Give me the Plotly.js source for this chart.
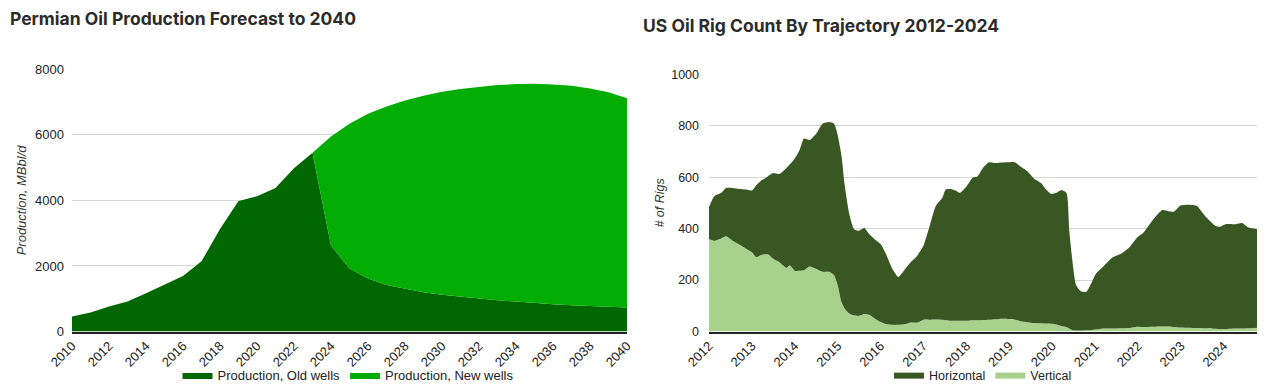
<!DOCTYPE html>
<html>
<head>
<meta charset="utf-8">
<script src="https://cdn.plot.ly/plotly-3.0.1.min.js"></script>
<style>
html,body{margin:0;padding:0;background:#fff;}
#chart{width:1270px;height:390px;}
</style>
</head>
<body>
<div id="chart"></div>
<script>
// ---- Permian production forecast (MBbl/d) ----
const permianYears = [2010,2011,2012,2013,2014,2015,2016,2017,2018,2019,2020,2021,2022,2023,2024,2025,2026,2027,2028,2029,2030,2031,2032,2033,2034,2035,2036,2037,2038,2039,2040];
const oldWells = [462,583,764,915,1166,1437,1698,2141,3126,3980,4131,4382,4985,5457,2623,1920,1618,1417,1296,1196,1126,1065,1005,955,915,864,834,804,774,744,734];
const newWells = [0,0,0,0,0,0,0,0,0,0,0,0,0,0,3327,4422,5025,5447,5749,6000,6190,6332,6462,6562,6633,6694,6704,6693,6643,6553,6381];
const permianTicks = [2010,2012,2014,2016,2018,2020,2022,2024,2026,2028,2030,2032,2034,2036,2038,2040];

// ---- US oil rig count by trajectory ----
const rigDates = ["2012-01-01","2012-02-15","2012-04-15","2012-05-25","2012-07-20","2012-09-15","2012-11-15",
"2013-01-01","2013-02-05","2013-03-20","2013-05-15","2013-07-01","2013-08-20","2013-10-20","2013-11-20",
"2014-01-01","2014-02-10","2014-03-20","2014-05-05","2014-07-01","2014-08-25","2014-10-20","2014-12-01",
"2015-01-01","2015-02-01","2015-03-01","2015-04-10","2015-05-20","2015-07-01","2015-08-15","2015-09-25","2015-11-08",
"2016-01-01","2016-02-15","2016-04-10","2016-06-01","2016-07-20","2016-09-15","2016-11-10",
"2017-01-01","2017-02-18","2017-04-15","2017-06-10","2017-07-08","2017-08-20","2017-10-01","2017-11-05",
"2018-01-01","2018-02-25","2018-04-05","2018-05-20","2018-07-12","2018-09-08","2018-11-03",
"2019-01-01","2019-02-15","2019-04-07","2019-06-05","2019-08-01","2019-09-28","2019-11-10","2019-12-25",
"2020-02-05","2020-03-18","2020-05-01","2020-05-26","2020-06-24","2020-07-23","2020-09-01","2020-10-16","2020-11-28",
"2021-01-08","2021-03-07","2021-05-31","2021-08-08","2021-10-20","2021-12-25",
"2022-02-17","2022-05-01","2022-07-27","2022-09-20","2022-11-03","2022-12-28",
"2023-03-10","2023-05-18","2023-07-26","2023-10-22","2023-12-01",
"2024-01-15","2024-04-08","2024-06-05","2024-07-30","2024-10-10"];
const verticalRigs = [360,353,362,370,353,338,321,
308,289,298,300,283,270,248,257,
236,236,238,253,244,232,232,219,
180,116,90,70,62,61,68,65,52,
37,29,26,26,28,35,35,
46,46,47,46,44,42,42,42,
42,44,44,45,46,48,50,
49,47,40,36,33,32,31,30,
27,22,18,12,5,4,4,5,6,
8,12,12,13,14,19,
18,19,20,20,18,16,
15,14,13,11,10,
10,12,12,13,15];
const horizontalRigs = [124,173,177,188,205,216,231,
240,279,288,303,333,342,387,393,
437,469,512,491,525,576,582,589,
583,570,481,386,336,331,334,314,308,
303,273,218,186,210,235,261,
288,358,441,474,508,512,506,497,
522,555,559,590,612,607,607,
609,611,601,586,561,545,521,505,
512,528,521,380,259,176,153,149,181,
217,239,277,289,314,347,
367,411,452,448,448,474,
478,474,436,400,397,
407,405,410,391,383];

const W = 1270, H = 390;
const px = v => v / W;
const py = v => 1 - v / H;

const tickFont = {family: 'Liberation Sans, Arial, sans-serif', size: 13, color: '#222'};
const titleFont = {family: 'Inter, sans-serif', size: 17.5, weight: 700, color: '#2b2b2b'};

const traces = [
  {x: permianYears, y: oldWells, name: 'Production, Old wells', type: 'scatter', mode: 'lines',
   stackgroup: 'perm', line: {width: 0, color: '#016801'}, fillcolor: '#016801',
   xaxis: 'x', yaxis: 'y', legend: 'legend', legendrank: 1, hoverinfo: 'x+y+name'},
  {x: permianYears, y: newWells, name: 'Production, New wells', type: 'scatter', mode: 'lines',
   stackgroup: 'perm', line: {width: 0, color: '#03ad03'}, fillcolor: '#03ad03',
   xaxis: 'x', yaxis: 'y', legend: 'legend', legendrank: 2, hoverinfo: 'x+y+name'},
  {x: rigDates, y: verticalRigs, name: 'Vertical', type: 'scatter', mode: 'lines',
   stackgroup: 'rigs', line: {width: 0, color: '#a9d18e', shape: 'spline', smoothing: 0.6}, fillcolor: '#a9d18e',
   xaxis: 'x2', yaxis: 'y2', legend: 'legend2', legendrank: 2},
  {x: rigDates, y: horizontalRigs, name: 'Horizontal', type: 'scatter', mode: 'lines',
   stackgroup: 'rigs', line: {width: 0, color: '#385723', shape: 'spline', smoothing: 0.6}, fillcolor: '#385723',
   xaxis: 'x2', yaxis: 'y2', legend: 'legend2', legendrank: 1}
];

const layout = {
  width: W, height: H, autosize: false,
  margin: {l: 0, r: 0, t: 0, b: 0},
  paper_bgcolor: '#fff', plot_bgcolor: '#fff',
  showlegend: true,
  xaxis: {
    domain: [px(72), px(627)], anchor: 'y', range: [2010, 2040],
    tickmode: 'array', tickvals: permianTicks, ticktext: permianTicks.map(String),
    tickangle: -45, tickfont: tickFont, showgrid: false, zeroline: false,
    showline: true, linecolor: '#222', linewidth: 1.5, ticks: '', fixedrange: true
  },
  yaxis: {
    domain: [py(335), py(70)], anchor: 'x', range: [0, 8000], dtick: 2000,
    tickfont: tickFont, gridcolor: '#d6d6d6', gridwidth: 1, zeroline: false, showline: false,
    ticks: '', ticklabelstandoff: 7, fixedrange: true,
    title: {text: 'Production, MBbl/d', font: {family: 'Liberation Sans, Arial, sans-serif', size: 13, style: 'italic', color: '#333'}, standoff: 5}
  },
  xaxis2: {
    domain: [px(709), px(1257)], anchor: 'y2', type: 'date', range: ['2012-01-01', '2024-10-10'],
    tick0: '2012-01-01', dtick: 'M12', tickformat: '%Y',
    tickangle: -45, tickfont: tickFont, showgrid: false, zeroline: false,
    showline: true, linecolor: '#222', linewidth: 1.5, ticks: '', fixedrange: true
  },
  yaxis2: {
    domain: [py(335), py(75)], anchor: 'x2', range: [0, 1000], dtick: 200,
    tickfont: {family: 'Liberation Sans, Arial, sans-serif', size: 12.5, color: '#222'},
    gridcolor: '#d6d6d6', gridwidth: 1, zeroline: false, showline: false,
    ticks: '', ticklabelstandoff: 9, fixedrange: true,
    title: {text: '# of Rigs', font: {family: 'Liberation Sans, Arial, sans-serif', size: 12.5, style: 'italic', color: '#333'}, standoff: 3}
  },
  legend: {
    orientation: 'h', xref: 'paper', yref: 'paper', x: px(348), xanchor: 'center',
    y: py(379), yanchor: 'middle', traceorder: 'normal',
    font: {family: 'Liberation Sans, Arial, sans-serif', size: 13, color: '#222'},
    bgcolor: 'rgba(0,0,0,0)'
  },
  legend2: {
    orientation: 'h', xref: 'paper', yref: 'paper', x: px(983), xanchor: 'center',
    y: py(379), yanchor: 'middle', traceorder: 'normal',
    font: {family: 'Liberation Sans, Arial, sans-serif', size: 12.5, color: '#222'},
    bgcolor: 'rgba(0,0,0,0)'
  },
  annotations: [
    {text: 'Permian Oil Production Forecast to 2040', xref: 'paper', yref: 'paper',
     x: px(8), xanchor: 'left', y: py(19), yanchor: 'middle', showarrow: false, font: titleFont},
    {text: 'US Oil Rig Count By Trajectory 2012-2024', xref: 'paper', yref: 'paper',
     x: px(641), xanchor: 'left', y: py(26), yanchor: 'middle', showarrow: false, font: titleFont}
  ]
};

Plotly.newPlot('chart', traces, layout, {displayModeBar: false});
</script>
</body>
</html>
